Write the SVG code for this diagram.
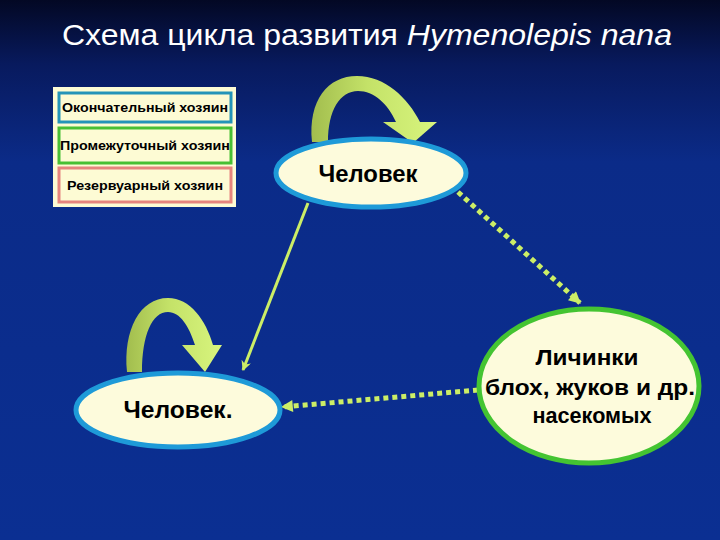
<svg xmlns="http://www.w3.org/2000/svg" width="720" height="540" viewBox="0 0 720 540">
<defs>
<linearGradient id="bg" x1="0" y1="0" x2="0" y2="1">
<stop offset="0" stop-color="#030824"/>
<stop offset="0.12" stop-color="#081a5e"/>
<stop offset="0.3" stop-color="#0b2b88"/>
<stop offset="1" stop-color="#0b2f92"/>
</linearGradient>
<linearGradient id="loop" x1="0" y1="0" x2="1" y2="0">
<stop offset="0" stop-color="#a2bd4e"/>
<stop offset="0.45" stop-color="#c4e268"/>
<stop offset="1" stop-color="#d8f57e"/>
</linearGradient>
<marker id="ah" viewBox="0 0 10 10" refX="9" refY="5" markerWidth="14" markerHeight="12" markerUnits="userSpaceOnUse" orient="auto">
<path d="M0,0 L10,5 L0,10 Z" fill="#ccee66"/>
</marker>
<marker id="ahs" viewBox="0 0 10 10" refX="9" refY="5" markerWidth="16" markerHeight="10" markerUnits="userSpaceOnUse" orient="auto">
<path d="M0,0 L10,5 L0,10 L3,5 Z" fill="#ccee66"/>
</marker>
<style>
.t{font-family:"Liberation Sans",Arial,sans-serif;fill:#000}
.leg{font-size:13px;font-weight:bold}
.node{fill:#fdfbdc;stroke-width:5}
.dot{stroke:#ccee66;stroke-width:5;stroke-dasharray:5 4;fill:none}
</style>
</defs>
<rect width="720" height="540" fill="url(#bg)"/>
<text x="62" y="45" font-family="'Liberation Sans',Arial,sans-serif" font-size="30" fill="#ffffff" textLength="610" lengthAdjust="spacingAndGlyphs">Схема цикла развития <tspan font-style="italic">Hymenolepis nana</tspan></text>

<g id="legend">
<rect x="53" y="87" width="183" height="120" fill="#fdfbd4"/>
<rect x="59" y="93" width="172" height="29" fill="#fdfbd4" stroke="#2494b8" stroke-width="3"/>
<text class="t leg" x="62" y="112" textLength="166" lengthAdjust="spacingAndGlyphs">Окончательный хозяин</text>
<rect x="59" y="128" width="172" height="35" fill="#fdfbd4" stroke="#48c034" stroke-width="3"/>
<text class="t leg" x="60" y="150" textLength="170" lengthAdjust="spacingAndGlyphs">Промежуточный хозяин</text>
<rect x="59" y="168" width="172" height="34" fill="#fdfbd4" stroke="#e6857e" stroke-width="3"/>
<text class="t leg" x="67" y="190" textLength="156" lengthAdjust="spacingAndGlyphs">Резервуарный хозяин</text>
</g>

<g id="connectors">
<line x1="308" y1="203" x2="243" y2="370" stroke="#ccee66" stroke-width="3" marker-end="url(#ahs)"/>
<line class="dot" x1="458" y1="192" x2="580" y2="303" marker-end="url(#ah)"/>
<line class="dot" x1="478" y1="390" x2="282" y2="407" marker-end="url(#ah)"/>
</g>

<g id="loop-top">
<path d="M312,142 C308,100 328,76 357,76 C385,76 408,98 420,122 L437,122 L413,143 L383,122 L396,122 C388,104 374,91 358,91 C340,91 328,110 328,142 Z" fill="url(#loop)"/>
</g>
<g id="loop-bottom">
<path d="M127,372 C123,330 140,298 168,298 C190,298 206,320 213,345 L222,345 L205,372 L182,345 L195,345 C189,326 180,312 168,312 C152,312 142,335 142,372 Z" fill="url(#loop)"/>
</g>

<g id="node-top">
<ellipse class="node" cx="371" cy="173" rx="95" ry="34" stroke="#1e9ad8"/>
<text class="t" x="368" y="182" font-size="23" font-weight="bold" text-anchor="middle" textLength="99" lengthAdjust="spacingAndGlyphs">Человек</text>
</g>

<g id="node-bottom">
<ellipse class="node" cx="178" cy="410" rx="102" ry="37" stroke="#1e9ad8"/>
<text class="t" x="178" y="418" font-size="24" font-weight="bold" text-anchor="middle" textLength="109" lengthAdjust="spacingAndGlyphs">Человек.</text>
</g>

<g id="node-right">
<ellipse class="node" cx="589" cy="386" rx="110" ry="77" stroke="#44c432"/>
<text class="t" x="587" y="365" font-size="22" font-weight="bold" text-anchor="middle" textLength="103" lengthAdjust="spacingAndGlyphs">Личинки</text>
<text class="t" x="590" y="395" font-size="22" font-weight="bold" text-anchor="middle" textLength="210" lengthAdjust="spacingAndGlyphs">блох, жуков и др.</text>
<text class="t" x="592" y="423" font-size="22" font-weight="bold" text-anchor="middle" textLength="119" lengthAdjust="spacingAndGlyphs">насекомых</text>
</g>
</svg>
